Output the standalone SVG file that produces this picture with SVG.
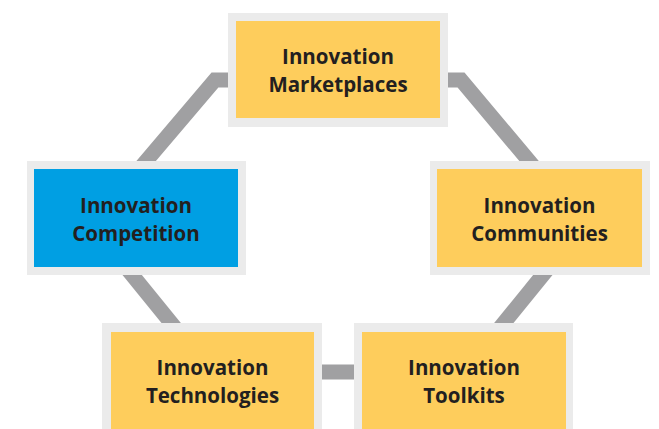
<svg xmlns="http://www.w3.org/2000/svg" width="659" height="429" viewBox="0 0 659 429">
<style>
.link{fill:none;stroke:#a0a0a2;stroke-width:15;stroke-linejoin:miter}
.frame{fill:#ebebeb}
.y{fill:#fecd5c}
.b{fill:#009fe3}
text{font-family:"Open Sans","Noto Sans","Liberation Sans",sans-serif;font-weight:bold;font-size:20.5px;fill:#231f20;text-anchor:middle}
</style>
<rect width="659" height="429" fill="#ffffff"/>
<g id="connectors">
<path class="link" d="M240 80 L215 80 L130 180"/>
<path class="link" d="M440 80 L461 80 L545 180"/>
<path class="link" d="M120 260 L185 340"/>
<path class="link" d="M555 260 L490 340"/>
<path class="link" d="M310 372 L365 372"/>
</g>
<g id="marketplaces">
<rect class="frame" x="228" y="13" width="220" height="114"/>
<rect class="y" x="236" y="21" width="204" height="97"/>
<text x="338" y="64">Innovation</text>
<text x="338" y="92">Marketplaces</text>
</g>
<g id="competition">
<rect class="frame" x="27" y="161" width="219" height="114"/>
<rect class="b" x="34" y="169" width="204" height="98"/>
<text x="136" y="213">Innovation</text>
<text x="136" y="241">Competition</text>
</g>
<g id="communities">
<rect class="frame" x="430" y="161" width="220" height="114"/>
<rect class="y" x="437" y="169" width="205" height="98"/>
<text x="539.5" y="213">Innovation</text>
<text x="539.5" y="241">Communities</text>
</g>
<g id="technologies">
<rect class="frame" x="102" y="323" width="220" height="114"/>
<rect class="y" x="111" y="332" width="203" height="100"/>
<text x="212.5" y="375">Innovation</text>
<text x="212.5" y="403">Technologies</text>
</g>
<g id="toolkits">
<rect class="frame" x="354" y="323" width="219" height="114"/>
<rect class="y" x="362" y="332" width="204" height="100"/>
<text x="464" y="375">Innovation</text>
<text x="464" y="403">Toolkits</text>
</g>
</svg>
